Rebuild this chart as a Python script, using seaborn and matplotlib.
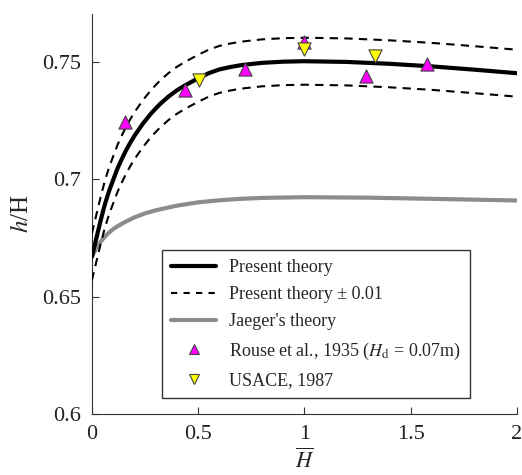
import numpy as np
import matplotlib
matplotlib.use("Agg")
import matplotlib.pyplot as plt
import seaborn as sns
from matplotlib.lines import Line2D

# curves
x_theory = [0, 0.02, 0.04, 0.06, 0.08, 0.1, 0.12, 0.14, 0.16, 0.18, 0.2, 0.24, 0.28, 0.32,
            0.36, 0.4, 0.44, 0.5, 0.55, 0.6, 0.65, 0.7, 0.8, 0.9, 1.0, 1.2, 1.4, 1.6, 1.8, 2.0]
y_theory = [0.667, 0.6745, 0.682, 0.689, 0.6948, 0.6997, 0.7045, 0.7085, 0.7122, 0.7155,
            0.7185, 0.7237, 0.7282, 0.732, 0.7352, 0.7379, 0.7401, 0.743, 0.7452, 0.7468,
            0.7478, 0.7486, 0.7496, 0.7501, 0.7503, 0.75, 0.7492, 0.7481, 0.7467, 0.7452]
band = 0.01

x_jaeger = [0, 0.02, 0.04, 0.06, 0.08, 0.1, 0.12, 0.16, 0.2, 0.25, 0.3, 0.4, 0.5, 0.6, 0.7,
            0.8, 1.0, 1.3, 1.6, 2.0]
y_jaeger = [0.667, 0.6705, 0.6733, 0.6755, 0.6773, 0.6788, 0.68, 0.682, 0.6838, 0.6855,
            0.6868, 0.6888, 0.6902, 0.6911, 0.6917, 0.6921, 0.6924, 0.6922, 0.6917, 0.691]

# experimental points
x_rouse = [0.155, 0.438, 0.72, 1.0, 1.289, 1.578]
y_rouse = [0.7244, 0.7379, 0.7471, 0.7584, 0.7438, 0.749]
x_usace = [0.504, 1.0, 1.332]
y_usace = [0.7424, 0.7556, 0.7525]

sns.set_style("ticks")
plt.rcParams["font.family"] = ["Liberation Serif", "DejaVu Serif"]
plt.rcParams["mathtext.fontset"] = "stix"

fig = plt.figure(figsize=(5.22, 4.75), dpi=100)
ax = fig.add_axes([0.176, 0.128, 0.814, 0.843])

y_up = np.array(y_theory) + band
y_lo = np.array(y_theory) - band
dash = (0, (4, 3))

sns.lineplot(x=x_jaeger, y=y_jaeger, ax=ax, color="#8c8c8c", lw=3, label="_nolegend_", zorder=2)
sns.lineplot(x=x_theory, y=y_up, ax=ax, color="black", lw=1.5, ls=dash, label="_nolegend_", zorder=3)
sns.lineplot(x=x_theory, y=y_lo, ax=ax, color="black", lw=1.5, ls=dash, label="_nolegend_", zorder=3)
sns.lineplot(x=x_theory, y=y_theory, ax=ax, color="black", lw=3, label="_nolegend_", zorder=4)

ax.scatter(x_rouse, y_rouse, marker="^", s=90, c="#ff00ff", edgecolors="#444444", linewidths=0.8, zorder=5)
ax.scatter(x_usace, y_usace, marker="v", s=90, c="#ffff00", edgecolors="#444444", linewidths=0.8, zorder=6)

# legend proxies
handles = [
    Line2D([], [], color="black", lw=3),
    Line2D([], [], color="black", lw=1.5, ls=(0, (3, 3))),
    Line2D([], [], color="#8c8c8c", lw=3),
    Line2D([], [], ls="none", marker="^", ms=7, mfc="#ff00ff", mec="#444444", mew=0.8),
    Line2D([], [], ls="none", marker="v", ms=7, mfc="#ffff00", mec="#444444", mew=0.8),
]
labels = ["Present theory", "Present theory \u00b1 0.01", "Jaeger's theory",
          "Rouse et al., 1935 ($H_\\mathrm{d}$ = 0.07m)", "USACE, 1987"]
leg = ax.legend(handles, labels, loc="lower left", bbox_to_anchor=(0.165, 0.04),
                borderaxespad=0, fontsize=13, handlelength=2.5, frameon=True, fancybox=False,
                edgecolor="#333333", framealpha=1, borderpad=0.5, labelspacing=0.57,
                handletextpad=0.7)
leg.get_frame().set_linewidth(1.0)

ax.set_xlim(0, 2)
ax.set_ylim(0.6, 0.7705)
ax.set_xticks([0, 0.5, 1, 1.5, 2])
ax.set_xticklabels(["0", "0.5", "1", "1.5", "2"])
ax.set_yticks([0.6, 0.65, 0.7, 0.75])
ax.set_yticklabels(["0.6", "0.65", "0.7", "0.75"])
ax.tick_params(direction="in", length=5, width=0.8, colors="#333333", labelsize=16,
               labelcolor="#222222", pad=8)
for s in ["left", "bottom"]:
    ax.spines[s].set_color("#333333")
    ax.spines[s].set_linewidth(0.8)
sns.despine(ax=ax)

ax.set_xlabel("$\\overline{H}$", fontsize=16, labelpad=3)
ax.set_ylabel("$h$/H", fontsize=18, labelpad=6)

fig.savefig("out.png", dpi=100)
